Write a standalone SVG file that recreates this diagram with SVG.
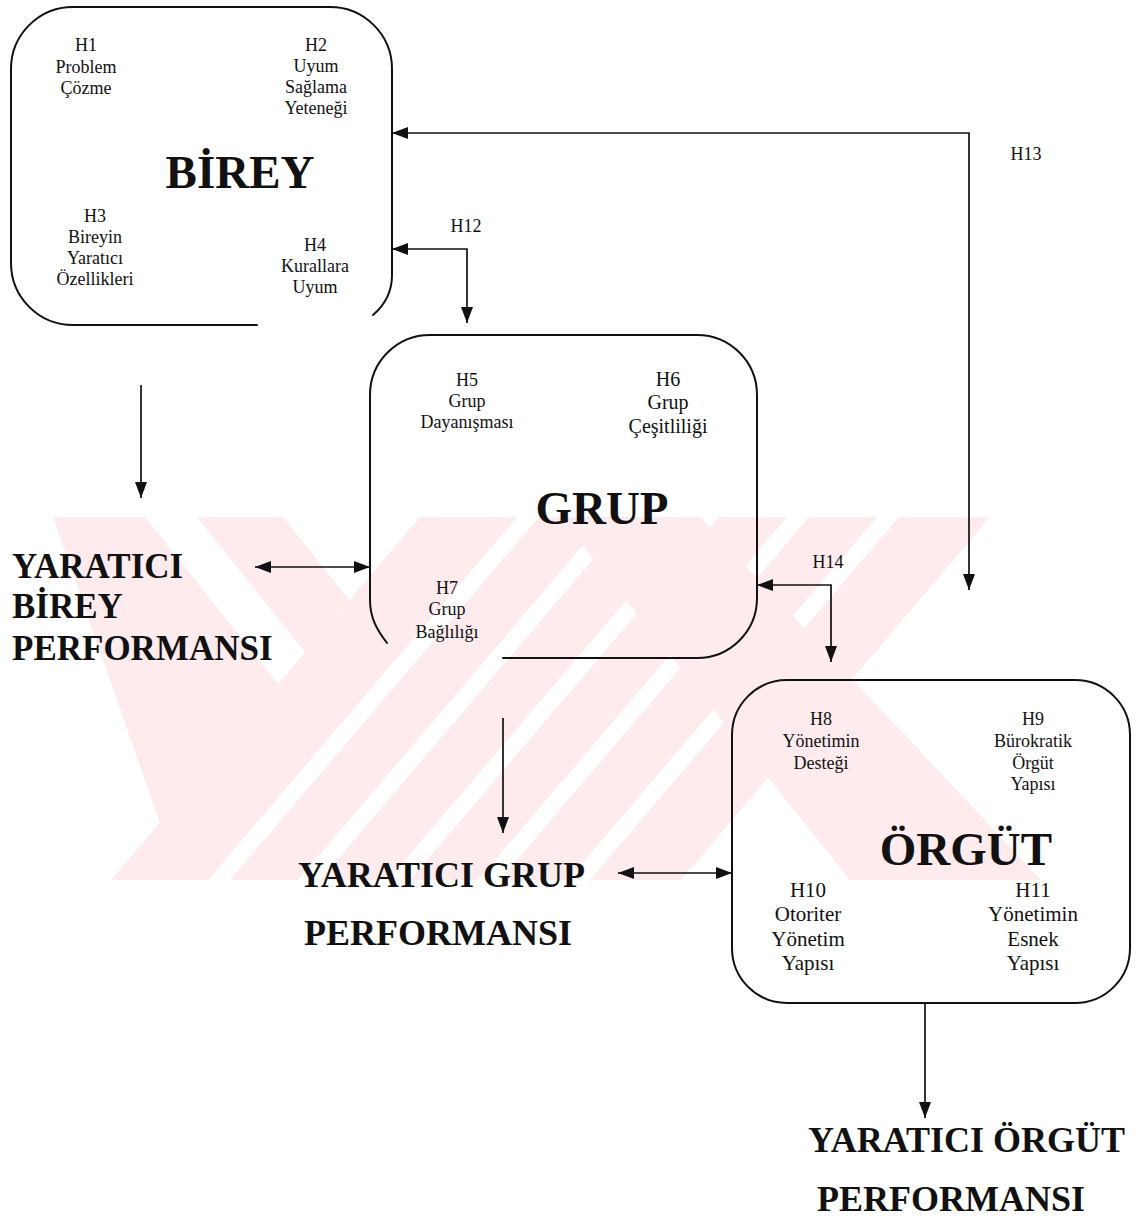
<svg xmlns="http://www.w3.org/2000/svg" width="1141" height="1217" viewBox="0 0 1141 1217">
<defs>
<style>
.box{fill:none;stroke:#111;stroke-width:2;stroke-linecap:round;stroke-linejoin:round}
.ln{fill:none;stroke:#111;stroke-width:1.7}
.t{font-family:"Liberation Serif","Times New Roman",serif;font-size:18px;fill:#111;text-anchor:middle}
.tm{font-family:"Liberation Serif","Times New Roman",serif;font-size:20px;fill:#111;text-anchor:middle}
.tl{font-family:"Liberation Serif","Times New Roman",serif;font-size:21px;fill:#111;text-anchor:middle}
.big{font-family:"Liberation Serif","Times New Roman",serif;font-size:47px;font-weight:bold;fill:#111;text-anchor:middle}
.out{font-family:"Liberation Serif","Times New Roman",serif;font-size:36px;font-weight:bold;fill:#111}
.wm{fill:#fdebee}
.wh{fill:#ffffff}
</style>
<marker id="ah" viewBox="0 0 16 12" refX="16" refY="6" markerWidth="16" markerHeight="12" markerUnits="userSpaceOnUse" orient="auto-start-reverse">
<path d="M0,0 L16,6 L0,12 z" fill="#111"/>
</marker>
</defs>
<rect width="1141" height="1217" fill="#ffffff"/>
<g id="watermark">
<polygon class="wm" points="420,517 990,517 681,880 111,880"/>
<polygon class="wm" points="53,517 283,517 349,600 160,823"/>
<polygon class="wh" points="145,517 197,517 305,652 278,684"/>
<polygon class="wh" points="517,517 539,517 230,880 208,880"/>
<polygon class="wh" points="607,517 629,517 320,880 298,880"/>
<polygon class="wh" points="697,517 719,517 410,880 388,880"/>
<polygon class="wh" points="787,517 809,517 500,880 478,880"/>
<polygon class="wh" points="877,517 899,517 590,880 568,880"/>
<polygon class="wm" points="560,517 700,517 1041,880 850,880"/>
</g>
<g id="connectors">
<path class="ln" d="M969 590 L969 133 L392 133" marker-start="url(#ah)" marker-end="url(#ah)"/>
<path class="ln" d="M392 249 L467 249 L467 323" marker-start="url(#ah)" marker-end="url(#ah)"/>
<path class="ln" d="M141 385 L141 498" marker-end="url(#ah)"/>
<path class="ln" d="M255 567 L370 567" marker-start="url(#ah)" marker-end="url(#ah)"/>
<path class="ln" d="M757 585 L831 585 L831 662" marker-start="url(#ah)" marker-end="url(#ah)"/>
<path class="ln" d="M503 718 L503 833" marker-end="url(#ah)"/>
<path class="ln" d="M618 873 L732 873" marker-start="url(#ah)" marker-end="url(#ah)"/>
<path class="ln" d="M925 1003 L925 1118" marker-end="url(#ah)"/>
<text class="t" x="466" y="232">H12</text>
<text class="t" x="1026" y="160">H13</text>
<text class="t" x="828" y="568">H14</text>
</g>
<g id="node-birey">
<path class="box" d="M257 325 L73 325 A62 62 0 0 1 11 263 L11 69 A62 62 0 0 1 73 7 L330 7 A62 62 0 0 1 392 69 L392 275 C392 292 386 304 373 315"/>
<text class="t" x="86" y="51">H1</text>
<text class="t" x="86" y="73">Problem</text>
<text class="t" x="86" y="94">Çözme</text>
<text class="t" x="316" y="51">H2</text>
<text class="t" x="316" y="72">Uyum</text>
<text class="t" x="316" y="93">Sağlama</text>
<text class="t" x="316" y="114">Yeteneği</text>
<text class="big" x="240" y="188">BİREY</text>
<text class="t" x="95" y="222">H3</text>
<text class="t" x="95" y="243">Bireyin</text>
<text class="t" x="95" y="264">Yaratıcı</text>
<text class="t" x="95" y="285">Özellikleri</text>
<text class="t" x="315" y="251">H4</text>
<text class="t" x="315" y="272">Kurallara</text>
<text class="t" x="315" y="293">Uyum</text>
</g>
<g id="node-grup">
<path class="box" d="M387 643 C377 630 370 618 370 600 L370 395 A60 60 0 0 1 430 335 L697 335 A60 60 0 0 1 757 395 L757 598 A60 60 0 0 1 697 658 L503 658"/>
<text class="t" x="467" y="386">H5</text>
<text class="t" x="467" y="407">Grup</text>
<text class="t" x="467" y="428">Dayanışması</text>
<text class="tm" x="668" y="386">H6</text>
<text class="tm" x="668" y="409">Grup</text>
<text class="tm" x="668" y="433">Çeşitliliği</text>
<text class="big" x="602" y="524">GRUP</text>
<text class="t" x="447" y="594">H7</text>
<text class="t" x="447" y="615">Grup</text>
<text class="t" x="447" y="638">Bağlılığı</text>
</g>
<g id="node-orgut">
<rect class="box" x="732" y="680" width="398" height="323" rx="55" ry="55"/>
<text class="t" x="821" y="725">H8</text>
<text class="t" x="821" y="747">Yönetimin</text>
<text class="t" x="821" y="769">Desteği</text>
<text class="t" x="1033" y="725">H9</text>
<text class="t" x="1033" y="747">Bürokratik</text>
<text class="t" x="1033" y="769">Örgüt</text>
<text class="t" x="1033" y="790">Yapısı</text>
<text class="big" x="966" y="865">ÖRGÜT</text>
<text class="tl" x="808" y="897">H10</text>
<text class="tl" x="808" y="921">Otoriter</text>
<text class="tl" x="808" y="946">Yönetim</text>
<text class="tl" x="808" y="970">Yapısı</text>
<text class="tl" x="1033" y="897">H11</text>
<text class="tl" x="1033" y="921">Yönetimin</text>
<text class="tl" x="1033" y="946">Esnek</text>
<text class="tl" x="1033" y="970">Yapısı</text>
</g>
<g id="node-birey-perf">
<text class="out" x="12" y="578" style="font-size:35px">YARATICI</text>
<text class="out" x="12" y="618" style="font-size:35px">BİREY</text>
<text class="out" x="12" y="660" style="font-size:35px">PERFORMANSI</text>
</g>
<g id="node-grup-perf">
<text class="out" x="298" y="887">YARATICI GRUP</text>
<text class="out" x="304" y="945">PERFORMANSI</text>
</g>
<g id="node-orgut-perf">
<text class="out" x="808" y="1152">YARATICI ÖRGÜT</text>
<text class="out" x="817" y="1211">PERFORMANSI</text>
</g>
</svg>
